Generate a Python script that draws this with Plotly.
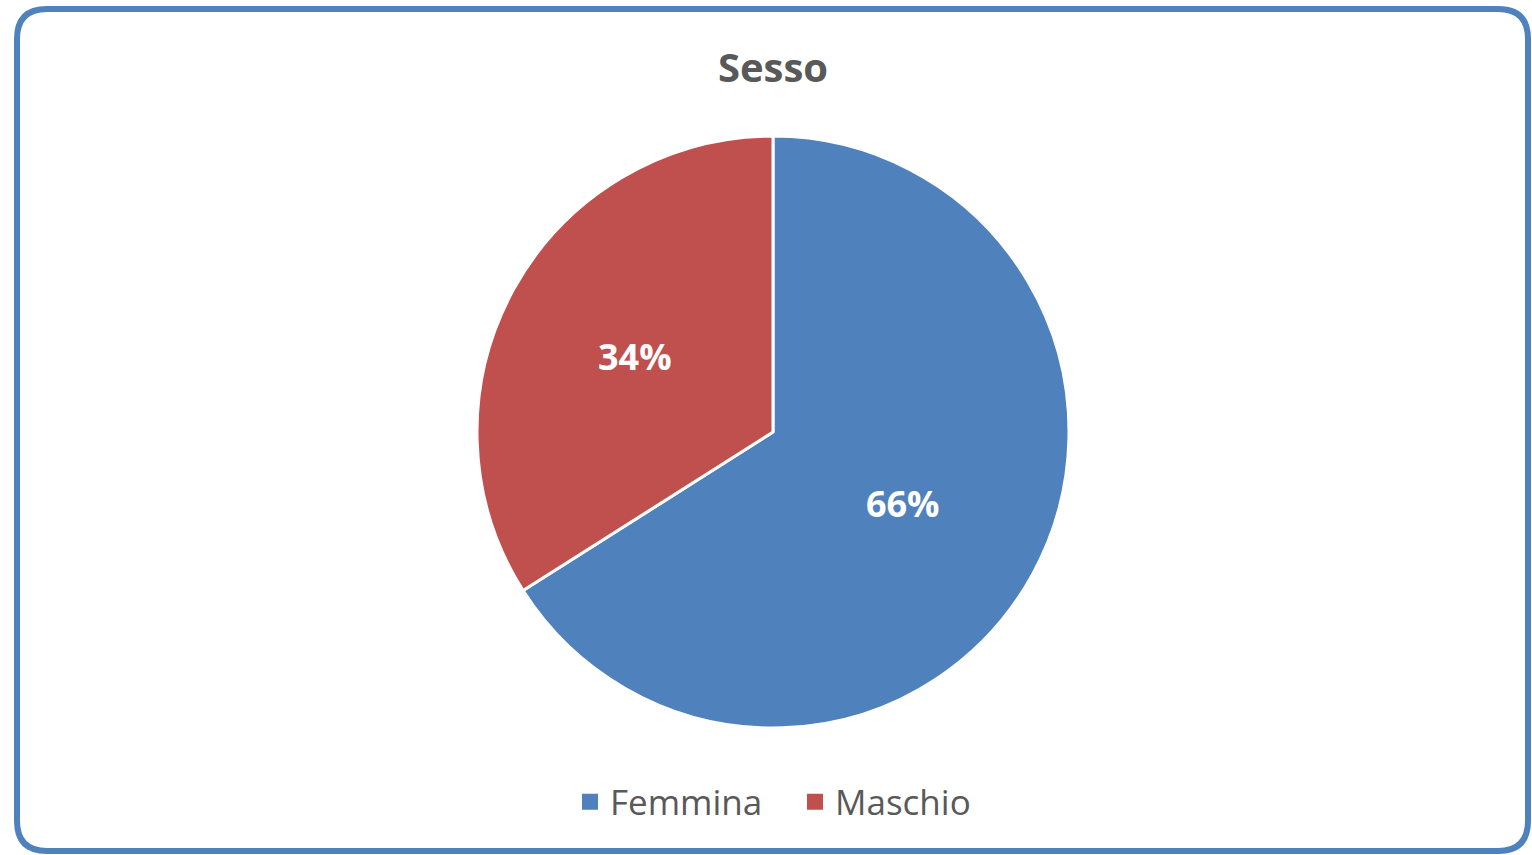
import plotly.graph_objects as go

categories = ["Femmina", "Maschio"]
values = [66, 34]
colors = ["#4F81BD", "#C0504D"]
title_text = "Sesso"

W, H = 1532, 855

def px(x):
    return x / W

def py(y):
    return 1 - y / H

fig = go.Figure()
fig.add_trace(go.Pie(
    labels=categories,
    values=values,
    sort=False,
    direction="clockwise",
    rotation=0,
    marker=dict(colors=colors, line=dict(color="white", width=3)),
    textinfo="percent",
    texttemplate="%{percent:.0%}",
    textposition="inside",
    insidetextorientation="horizontal",
    textfont=dict(family="Open Sans", size=36, color="white", weight="bold"),
    domain=dict(x=[px(477), px(1069)], y=[py(728), py(136)]),
    hoverinfo="label+percent",
    showlegend=False,
))

# legend entries with larger square swatches
for name, col in zip(categories, colors):
    fig.add_trace(go.Scatter(
        x=[None], y=[None], mode="markers", name=name,
        marker=dict(symbol="square", size=18, color=col),
        showlegend=True, hoverinfo="skip",
    ))

# rounded border
l, t, r, b, rad = 17, 9, 1528, 851, 30
path = (
    f"M {px(l+rad)},{py(t)} L {px(r-rad)},{py(t)} Q {px(r)},{py(t)} {px(r)},{py(t+rad)} "
    f"L {px(r)},{py(b-rad)} Q {px(r)},{py(b)} {px(r-rad)},{py(b)} "
    f"L {px(l+rad)},{py(b)} Q {px(l)},{py(b)} {px(l)},{py(b-rad)} "
    f"L {px(l)},{py(t+rad)} Q {px(l)},{py(t)} {px(l+rad)},{py(t)} Z"
)
fig.add_shape(type="path", path=path, xref="paper", yref="paper",
              line=dict(color="#4F81BD", width=6), layer="above")

fig.update_layout(
    width=W, height=H,
    margin=dict(l=0, r=0, t=0, b=0),
    paper_bgcolor="white",
    plot_bgcolor="white",
    xaxis=dict(visible=False),
    yaxis=dict(visible=False),
    title=dict(text=title_text, x=px(773), xanchor="center", y=py(68), yanchor="middle",
               font=dict(family="Open Sans", size=40, color="#595959", weight="bold")),
    legend=dict(orientation="h", x=px(570), xanchor="left", y=py(802), yanchor="middle",
                font=dict(family="Open Sans", size=35, color="#595959"),
                itemsizing="trace", itemwidth=30, entrywidth=180, entrywidthmode="pixels"),
    showlegend=True,
)

fig.write_html("out.html", config={"displayModeBar": False},
               post_script="document.body.style.margin='0';document.body.style.overflow='hidden';")
